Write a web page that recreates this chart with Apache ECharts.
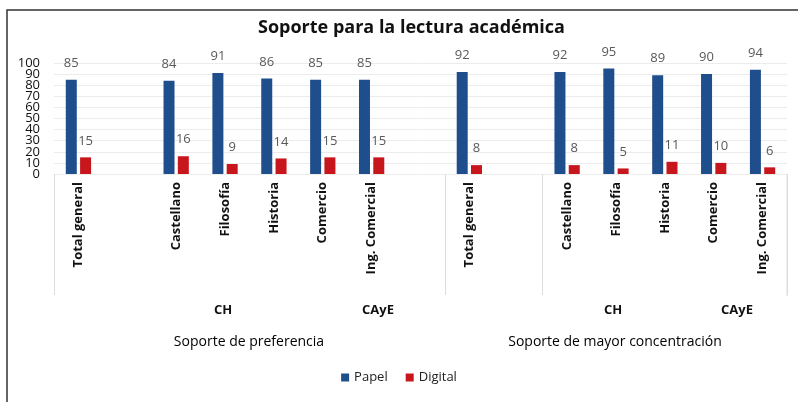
<!DOCTYPE html>
<html>
<head>
<meta charset="utf-8">
<script src="https://cdn.jsdelivr.net/npm/echarts@6/dist/echarts.min.js"></script>
<style>
  html, body { margin: 0; padding: 0; background: #fff; }
  #main { width: 798px; height: 402px; }
</style>
</head>
<body>
<div id="main"></div>
<script>
// categories (blank slots are the gaps Excel leaves between groups)
var categories = ['Total general', '', 'Castellano', 'Filosofía', 'Historia', 'Comercio', 'Ing. Comercial', '',
                  'Total general', '', 'Castellano', 'Filosofía', 'Historia', 'Comercio', 'Ing. Comercial'];
var papel   = [85, '-', 84, 91, 86, 85, 85, '-', 92, '-', 92, 95, 89, 90, 94];
var digital = [15, '-', 16, 9, 14, 15, 15, '-', 8, '-', 8, 5, 11, 10, 6];
var yTicks = [0, 100, 10];
var seriesNames = ['Papel', 'Digital'];
var colors = ['#1f4e8c', '#c8161d'];

var fontFam = '"Open Sans", Lato, sans-serif';

var chart = echarts.init(document.getElementById('main'));

// the tick labels are packed tighter than their own height, so the even and
// odd ones are drawn by two overlaid axes to stop echarts from dropping some
function yAxisFor(odd) {
    return {
        type: 'value',
        position: 'left',
        min: yTicks[0],
        max: yTicks[1],
        interval: yTicks[2],
        axisLine: { show: false },
        axisTick: { show: false },
        splitLine: { show: !odd, lineStyle: { color: '#ececec' } },
        axisLabel: {
            fontSize: 13, color: '#111', margin: 14, fontFamily: fontFam,
            showMinLabel: true, showMaxLabel: true,
            formatter: function (v) {
                return ((v / yTicks[2]) % 2 === 1) === odd ? String(v) : '';
            }
        }
    };
}

var option = {
    animation: false,
    textStyle: { fontFamily: fontFam },
    title: {
        text: 'Soporte para la lectura académica',
        left: 253,
        top: 14,
        textStyle: { fontSize: 18, fontWeight: 'bold', color: '#111', fontFamily: fontFam }
    },
    legend: {
        data: seriesNames,
        bottom: 13,
        left: 'center',
        icon: 'rect',
        itemWidth: 8,
        itemHeight: 8,
        itemGap: 18,
        itemStyle: { borderWidth: 0 },
        textStyle: { fontSize: 13, color: '#222', fontFamily: fontFam }
    },
    grid: { left: 54, right: 11, top: 63, bottom: 228 },
    xAxis: {
        type: 'category',
        data: categories,
        axisLine: { show: false },
        axisTick: {
            show: true,
            length: 121,
            lineStyle: { color: '#dcdcdc' },
            interval: function (index) {
                return index === 0 || index === 8 || index === 10;
            }
        },
        axisLabel: {
            interval: 0,
            rotate: 90,
            margin: 8,
            fontSize: 13,
            fontWeight: 'bold',
            color: '#111',
            fontFamily: fontFam
        }
    },
    yAxis: [yAxisFor(false), yAxisFor(true)],
    series: [
        {
            name: seriesNames[0],
            type: 'bar',
            data: papel,
            barWidth: 11,
            barGap: '30%',
            itemStyle: { color: colors[0] },
            label: { show: true, position: 'top', distance: 10, fontSize: 13, color: '#595959' }
        },
        {
            name: seriesNames[1],
            type: 'bar',
            data: digital,
            barWidth: 11,
            itemStyle: { color: colors[1] },
            label: { show: true, position: 'top', distance: 10, fontSize: 13, color: '#595959' }
        }
    ],
    graphic: [
        { type: 'rect', shape: { x: 7, y: 10, width: 900, height: 600 },
          style: { fill: 'none', stroke: '#333', lineWidth: 1.5 }, silent: true },
        { type: 'line', shape: { x1: 787, y1: 175, x2: 787, y2: 296 },
          style: { stroke: '#dcdcdc', lineWidth: 1 } },
        { type: 'text', x: 223, y: 310, style: { text: 'CH', font: 'bold 13px ' + fontFam, fill: '#111', align: 'center', verticalAlign: 'middle' } },
        { type: 'text', x: 378, y: 310, style: { text: 'CAyE', font: 'bold 13px ' + fontFam, fill: '#111', align: 'center', verticalAlign: 'middle' } },
        { type: 'text', x: 613, y: 310, style: { text: 'CH', font: 'bold 13px ' + fontFam, fill: '#111', align: 'center', verticalAlign: 'middle' } },
        { type: 'text', x: 737, y: 310, style: { text: 'CAyE', font: 'bold 13px ' + fontFam, fill: '#111', align: 'center', verticalAlign: 'middle' } },
        { type: 'text', x: 249, y: 342, style: { text: 'Soporte de preferencia', font: '14px ' + fontFam, fill: '#000', align: 'center', verticalAlign: 'middle' } },
        { type: 'text', x: 615, y: 342, style: { text: 'Soporte de mayor concentración', font: '14px ' + fontFam, fill: '#000', align: 'center', verticalAlign: 'middle' } }
    ]
};

chart.setOption(option);
</script>
</body>
</html>
